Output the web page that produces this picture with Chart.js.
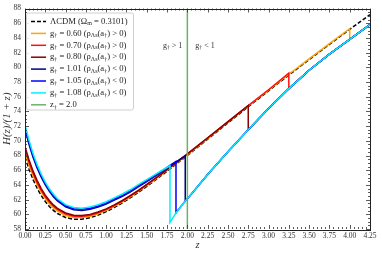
<!DOCTYPE html>
<html>
<head>
<meta charset="utf-8">
<script src="https://cdn.jsdelivr.net/npm/chart.js@4.4.1/dist/chart.umd.min.js"></script>
<style>
  body { margin: 0; background: #fff; }
  #wrap { width: 382px; height: 255px; }
</style>
</head>
<body>
<div id="wrap"><canvas id="chart" width="382" height="255"></canvas></div>
<script>
// z grid (0 .. 2 fine, then 0.25 steps)
var zGrid = [0, 0.05, 0.1, 0.15, 0.2, 0.25, 0.3, 0.35, 0.4, 0.5, 0.6, 0.7, 0.8, 0.9, 1.0,
             1.1, 1.2, 1.3, 1.4, 1.5, 1.6, 1.7, 1.8, 1.9, 2.0,
             2.25, 2.5, 2.75, 3.0, 3.25, 3.5, 3.75, 4.0, 4.25];

// H(z)/(1+z)
var lcdmH = [67.80, 66.13, 64.72, 63.54, 62.55, 61.74, 61.07, 60.53, 60.11, 59.56, 59.32, 59.33, 59.53, 59.89, 60.36,
             60.93, 61.56, 62.27, 63.01, 63.80, 64.61, 65.44, 66.29, 67.16, 68.02,
             70.23, 72.43, 74.63, 76.80, 78.95, 81.05, 83.12, 85.16, 87.16];
var g060H = [68.40, 66.68, 65.22, 64.00, 62.97, 62.13, 61.43, 60.86, 60.42, 59.83, 59.56, 59.55, 59.73, 60.07, 60.53,
             61.09, 61.71, 62.41, 63.14, 63.93, 64.73, 65.56, 66.40, 67.27, 68.12,
             70.33, 72.53, 74.73, 76.90, 79.05, 81.15, 83.22, 85.26];
var g070H = [68.80, 67.05, 65.57, 64.31, 63.25, 62.39, 61.67, 61.09, 60.63, 60.02, 59.74, 59.71, 59.88, 60.21, 60.65,
             61.20, 61.81, 62.51, 63.23, 64.01, 64.81, 65.63, 66.47, 67.33, 68.18,
             70.38, 72.58, 74.78, 76.95, 79.20];
var g080H = [69.20, 67.40, 65.87, 64.59, 63.50, 62.61, 61.87, 61.28, 60.81, 60.18, 59.88, 59.83, 59.99, 60.31, 60.74,
             61.28, 61.88, 62.57, 63.29, 64.06, 64.86, 65.67, 66.51, 67.37, 68.22,
             70.41, 72.61, 74.81];
var g101H = [71.60, 69.48, 67.72, 66.27, 65.05, 64.01, 63.12, 62.40, 61.81, 61.01, 60.62, 60.53, 60.68, 60.99, 61.41,
             61.93, 62.46, 63.07, 63.76, 64.45, 65.16, 65.89, 66.64, 67.41];
var g105H = [71.90, 69.76, 67.97, 66.49, 65.25, 64.21, 63.32, 62.58, 61.96, 61.16, 60.77, 60.68, 60.83, 61.14, 61.56,
             62.08, 62.61, 63.22, 63.91, 64.60, 65.29, 66.00, 66.76];
var g108H = [72.20, 70.03, 68.22, 66.72, 65.45, 64.39, 63.47, 62.73, 62.11, 61.31, 60.92, 60.83, 60.98, 61.29, 61.71,
             62.23, 62.76, 63.37, 64.06, 64.72, 65.39, 66.06];

// top of the jump for the g>1 curves [z, H]
var g101Top = [1.974, 67.95];
var g105Top = [1.86, 67.20];
var g108Top = [1.786, 66.60];

// branch after the jump (shared by all g curves)
var lowerZ = [1.786, 1.86, 1.974, 2.0, 2.25, 2.5, 2.75, 3.0, 3.25, 3.5, 3.75, 4.0, 4.25];
var lowerH = [58.9, 60.2, 61.8, 62.1, 65.4, 68.5, 71.5, 74.4, 77.1, 79.6, 81.8, 83.8, 85.8];

var zStar = 2.0;

var labels = [
  'ΛCDM (Ω_{m} = 0.3101)',
  'g_{†} = 0.60 (ρ_{Λs}(a_{†}) > 0)',
  'g_{†} = 0.70 (ρ_{Λs}(a_{†}) > 0)',
  'g_{†} = 0.80 (ρ_{Λs}(a_{†}) > 0)',
  'g_{†} = 1.01 (ρ_{Λs}(a_{†}) < 0)',
  'g_{†} = 1.05 (ρ_{Λs}(a_{†}) < 0)',
  'g_{†} = 1.08 (ρ_{Λs}(a_{†}) < 0)',
  'z_{†} = 2.0'
];
var colors = ['#000000', '#ffa500', '#ff1010', '#8b0000', '#00008b', '#0000ff', '#00f0ff', '#6ab46a'];

var xTicks = [0, 0.25, 0.5, 0.75, 1, 1.25, 1.5, 1.75, 2, 2.25, 2.5, 2.75, 3, 3.25, 3.5, 3.75, 4, 4.25];
var xTickLabels = ['0.00', '0.25', '0.50', '0.75', '1.00', '1.25', '1.50', '1.75', '2.00', '2.25', '2.50',
                   '2.75', '3.00', '3.25', '3.50', '3.75', '4.00', '4.25'];
var yTicks = [58, 60, 62, 64, 66, 68, 70, 72, 74, 76, 78, 80, 82, 84, 86, 88];
var yTickLabels = ['58', '60', '62', '64', '66', '68', '70', '72', '74', '76', '78', '80', '82', '84', '86', '88'];

var serif = '"Liberation Serif", "DejaVu Serif", serif';

// builds points: upper branch, optional jump top, then the lower branch
function buildSeries(upperH, top, withLower) {
    var pts = upperH.map(function (h, i) { return { x: zGrid[i], y: h }; });
    if (top) pts.push({ x: top[0], y: top[1] });
    if (withLower) {
        var jump = pts[pts.length - 1].x;
        for (var i = 0; i < lowerZ.length; i++) {
            if (lowerZ[i] >= jump - 1e-9) pts.push({ x: lowerZ[i], y: lowerH[i] });
        }
    }
    return pts;
}

var seriesData = [
    buildSeries(lcdmH, null, false),
    buildSeries(g060H, null, true),
    buildSeries(g070H, null, true),
    buildSeries(g080H, null, true),
    buildSeries(g101H, g101Top, true),
    buildSeries(g105H, g105Top, true),
    buildSeries(g108H, g108Top, true),
    [{ x: zStar, y: yTicks[0] }, { x: zStar, y: yTicks[yTicks.length - 1] }]
];

var datasets = seriesData.map(function (d, i) {
    return {
        label: labels[i],
        data: d,
        borderColor: colors[i],
        borderWidth: 1.5,
        borderDash: i === 0 ? [4, 2] : [],
        pointRadius: 0,
        tension: 0,
        fill: false,
        order: seriesData.length - i // later ones on top
    };
});

// text with _{...} subscripts
function drawRich(ctx, str, x, y, size, align) {
    var parts = str.split(/_\{([^}]*)\}/);
    var widths = [], total = 0;
    for (var i = 0; i < parts.length; i++) {
        ctx.font = (i % 2 ? size * 0.7 : size) + 'px ' + serif;
        var w = ctx.measureText(parts[i]).width;
        widths.push(w); total += w;
    }
    var cx = align === 'right' ? x - total : x;
    for (var j = 0; j < parts.length; j++) {
        var sub = j % 2 === 1;
        ctx.font = (sub ? size * 0.7 : size) + 'px ' + serif;
        ctx.fillText(parts[j], cx, sub ? y + size * 0.28 : y);
        cx += widths[j];
    }
}

var decorPlugin = {
    id: 'decor',
    afterDatasetsDraw: function (chart) {
        var ctx = chart.ctx, a = chart.chartArea;
        var xs = chart.scales.x, ys = chart.scales.y;
        ctx.save();

        // inward ticks on all four sides
        ctx.strokeStyle = '#333';
        ctx.lineWidth = 0.8;
        ctx.beginPath();
        for (var i = 0; i < xTicks.length; i++) {
            var px = Math.round(xs.getPixelForValue(xTicks[i])) + 0.5;
            ctx.moveTo(px, a.bottom); ctx.lineTo(px, a.bottom - 4);
            ctx.moveTo(px, a.top); ctx.lineTo(px, a.top + 4);
            if (i < xTicks.length - 1) {
                var step = (xTicks[i + 1] - xTicks[i]) / 5;
                for (var k = 1; k < 5; k++) {
                    var mx = Math.round(xs.getPixelForValue(xTicks[i] + k * step)) + 0.5;
                    ctx.moveTo(mx, a.bottom); ctx.lineTo(mx, a.bottom - 2);
                    ctx.moveTo(mx, a.top); ctx.lineTo(mx, a.top + 2);
                }
            }
        }
        for (var j = 0; j < yTicks.length; j++) {
            var py = Math.round(ys.getPixelForValue(yTicks[j])) + 0.5;
            ctx.moveTo(a.left, py); ctx.lineTo(a.left + 4, py);
            ctx.moveTo(a.right, py); ctx.lineTo(a.right - 4, py);
            if (j < yTicks.length - 1) {
                var st = (yTicks[j + 1] - yTicks[j]) / 4;
                for (var m = 1; m < 4; m++) {
                    var my = Math.round(ys.getPixelForValue(yTicks[j] + m * st)) + 0.5;
                    ctx.moveTo(a.left, my); ctx.lineTo(a.left + 2, my);
                    ctx.moveTo(a.right, my); ctx.lineTo(a.right - 2, my);
                }
            }
        }
        ctx.stroke();

        // frame
        ctx.strokeStyle = '#222';
        ctx.lineWidth = 1;
        ctx.strokeRect(Math.round(a.left) + 0.5, Math.round(a.top) + 0.5,
                       Math.round(a.right - a.left), Math.round(a.bottom - a.top));

        // g > 1 / g < 1 notes beside the z† line
        var gx = xs.getPixelForValue(zStar);
        ctx.fillStyle = '#333';
        ctx.textBaseline = 'middle';
        drawRich(ctx, 'g_{†} > 1', gx - 5, a.top + 37, 8, 'right');
        drawRich(ctx, 'g_{†} < 1', gx + 8, a.top + 37, 8, 'left');

        // legend box
        var lx = a.left + 1, ly = a.top + 4, lw = 107, lh = 97;
        ctx.fillStyle = 'rgba(255,255,255,0.85)';
        ctx.strokeStyle = '#d0d0d0';
        ctx.lineWidth = 1;
        ctx.beginPath();
        ctx.roundRect(lx + 0.5, ly + 0.5, lw, lh, 2);
        ctx.fill();
        ctx.stroke();

        var ds = chart.data.datasets;
        for (var n = 0; n < ds.length; n++) {
            var ry = ly + 9 + n * 11.9;
            ctx.strokeStyle = ds[n].borderColor;
            ctx.lineWidth = 1.5;
            ctx.setLineDash(ds[n].borderDash || []);
            ctx.beginPath();
            ctx.moveTo(lx + 5, ry); ctx.lineTo(lx + 20, ry);
            ctx.stroke();
            ctx.setLineDash([]);
            ctx.fillStyle = '#222';
            drawRich(ctx, ds[n].label, lx + 24, ry, 8.6, 'left');
        }
        ctx.restore();
    }
};

var ctx = document.getElementById('chart').getContext('2d');
var chart = new Chart(ctx, {
    type: 'line',
    data: { datasets: datasets },
    options: {
        responsive: false,
        animation: false,
        parsing: false,
        layout: { padding: { top: 5, right: 12, left: 0, bottom: 0 } },
        plugins: { legend: { display: false }, tooltip: { enabled: false } },
        scales: {
            x: {
                type: 'linear',
                min: 0, max: 4.25,
                afterBuildTicks: function (s) { s.ticks = xTicks.map(function (v) { return { value: v }; }); },
                afterFit: function (s) { s.height = 26; },
                grid: { display: false, drawTicks: false },
                border: { display: false },
                ticks: {
                    autoSkip: false, maxRotation: 0, padding: 3, color: '#333',
                    font: { family: serif, size: 7.5 },
                    callback: function (v, i) { return xTickLabels[i]; }
                },
                title: { display: true, text: 'z', color: '#333', padding: { top: 0, bottom: 3 },
                         font: { family: serif, size: 10.5, style: 'italic' } }
            },
            y: {
                type: 'linear',
                min: 58, max: 88,
                afterBuildTicks: function (s) { s.ticks = yTicks.map(function (v) { return { value: v }; }); },
                afterFit: function (s) { s.width = 25; },
                grid: { display: false, drawTicks: false },
                border: { display: false },
                ticks: {
                    padding: 4, color: '#333',
                    font: { family: serif, size: 7.5 },
                    callback: function (v, i) { return yTickLabels[i]; }
                },
                title: { display: true, text: 'H(z)/(1 + z)', color: '#333', padding: { top: 1, bottom: 0 },
                         font: { family: serif, size: 11, style: 'italic' } }
            }
        }
    },
    plugins: [decorPlugin]
});
</script>
</body>
</html>
